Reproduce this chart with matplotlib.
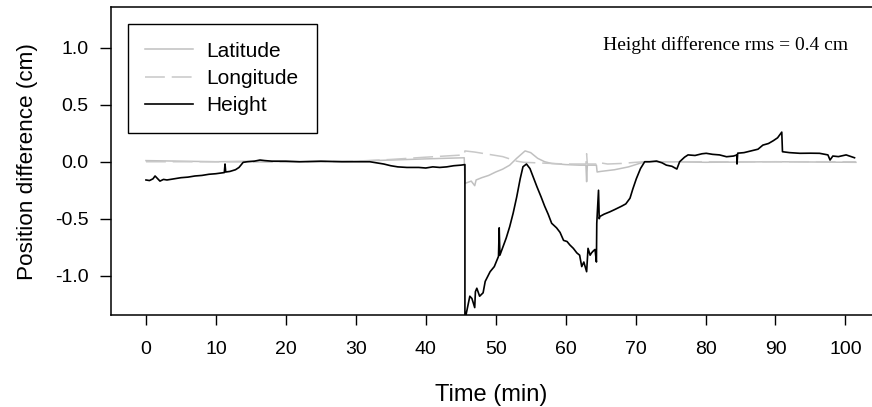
import numpy as np
import matplotlib
matplotlib.use("Agg")
import matplotlib.pyplot as plt

# values (time in min, difference in cm)
height_t = [0.0, 0.5, 1.0, 1.3, 1.7, 2.0, 2.5, 3.0, 4.0, 5.0, 6.0, 7.0, 8.0, 9.0,
            10.0, 11.2, 11.3, 11.4, 12.0, 12.8, 13.3, 13.9, 14.5, 15.5, 16.3, 17.0,
            18.0, 20.0, 22.0, 25.0, 28.0, 30.0, 32.0, 33.0, 34.0, 35.0, 36.0, 37.3,
            39.0, 40.0, 41.0, 42.0, 43.0, 44.0, 45.0, 45.6, 45.6, 45.8, 46.3, 46.6,
            47.0, 47.1, 47.3, 47.7, 48.2, 48.5, 49.2, 49.8, 50.4, 50.5, 50.6, 50.9,
            51.5, 52.0, 52.5, 53.0, 53.5, 53.9, 54.4, 54.9, 55.4, 55.9, 56.5, 57.0,
            57.5, 58.0, 58.7, 59.2, 59.7, 60.2, 60.6, 61.1, 61.6, 62.0, 62.3, 62.6,
            63.0, 63.2, 63.5, 63.7, 64.0, 64.2, 64.4, 64.45, 64.7, 64.8, 64.9, 65.5,
            66.3, 67.0, 68.0, 68.6, 69.2, 69.6, 70.1, 70.7, 71.3, 72.0, 73.0, 73.8,
            74.4, 75.2, 75.9, 76.3, 77.0, 77.5, 78.5, 79.5, 80.1, 81.0, 82.0, 83.0,
            84.0, 84.5, 84.5, 84.6, 85.5, 86.8, 87.5, 88.2, 89.0, 89.7, 90.3, 90.9,
            91.0, 92.0, 93.5, 95.0, 96.3, 97.5, 97.8, 98.2, 99.0, 100.1, 101.3]
height_v = [-0.16, -0.165, -0.15, -0.125, -0.15, -0.17, -0.155, -0.16, -0.15, -0.14,
            -0.135, -0.125, -0.12, -0.11, -0.105, -0.095, -0.02, -0.09, -0.085, -0.07,
            -0.05, -0.005, 0.0, 0.005, 0.015, 0.01, 0.005, 0.005, 0.0, 0.005, 0.0, 0.0,
            0.0, -0.01, -0.02, -0.035, -0.045, -0.05, -0.05, -0.055, -0.045, -0.05,
            -0.045, -0.035, -0.03, -0.025, -1.4, -1.33, -1.18, -1.2, -1.28, -1.14,
            -1.11, -1.18, -1.15, -1.05, -0.965, -0.92, -0.83, -0.58, -0.82, -0.77,
            -0.67, -0.57, -0.45, -0.31, -0.15, -0.044, -0.02, -0.06, -0.14, -0.22,
            -0.31, -0.39, -0.46, -0.54, -0.58, -0.62, -0.69, -0.70, -0.73, -0.76,
            -0.80, -0.82, -0.92, -0.88, -0.965, -0.76, -0.82, -0.80, -0.78, -0.77,
            -0.88, -0.54, -0.25, -0.50, -0.48, -0.46, -0.44, -0.42, -0.39, -0.37,
            -0.32, -0.24, -0.15, -0.06, 0.0, 0.0, 0.006, -0.01, -0.03, -0.04, -0.064,
            0.0, 0.04, 0.06, 0.055, 0.07, 0.074, 0.065, 0.06, 0.044, 0.05, 0.06,
            -0.02, 0.075, 0.08, 0.10, 0.11, 0.146, 0.16, 0.185, 0.21, 0.26, 0.088,
            0.08, 0.074, 0.075, 0.074, 0.06, 0.015, 0.05, 0.045, 0.06, 0.035]

lat_t = [0.0, 5.0, 10.0, 15.0, 20.0, 25.0, 30.0, 35.0, 40.0, 45.5, 45.6, 46.5, 47.0,
         47.2, 48.0, 49.0, 50.0, 51.0, 52.0, 53.0, 54.2, 55.0, 56.0, 57.0, 58.0,
         60.0, 62.0, 62.9, 63.0, 63.1, 64.4, 64.5, 65.0, 67.0, 69.0, 71.3, 75.0,
         80.0, 90.0, 101.5]
lat_v = [0.01, 0.005, 0.0, 0.005, 0.0, 0.0, 0.005, 0.015, 0.025, 0.035, -0.19, -0.17,
         -0.21, -0.16, -0.14, -0.12, -0.09, -0.065, -0.03, 0.03, 0.095, 0.08, 0.03,
         0.0, -0.015, -0.025, -0.03, -0.03, -0.175, -0.03, -0.03, -0.09, -0.085,
         -0.07, -0.045, 0.0, 0.0, -0.005, 0.0, -0.005]

lon_t = [0.0, 10.0, 20.0, 30.0, 35.0, 40.0, 45.5, 45.6, 47.0, 48.5, 50.0, 51.0, 52.0,
         53.0, 54.0, 56.0, 58.0, 60.0, 62.9, 63.0, 63.1, 64.4, 64.5, 66.0, 68.0,
         70.0, 71.3, 80.0, 90.0, 101.5]
lon_v = [0.0, 0.0, -0.005, 0.005, 0.02, 0.04, 0.06, 0.095, 0.085, 0.07, 0.055, 0.045,
         0.025, 0.005, -0.005, -0.01, -0.015, -0.02, -0.02, 0.07, -0.02, -0.02,
         -0.005, -0.02, -0.015, -0.005, 0.0, 0.0, 0.0, 0.0]

x_ticks = [0, 10, 20, 30, 40, 50, 60, 70, 80, 90, 100]
y_ticks = [-1.0, -0.5, 0.0, 0.5, 1.0]

plt.rcParams["font.family"] = ["Liberation Sans", "DejaVu Sans"]

fig = plt.figure(figsize=(8.72, 4.07), dpi=100)
ax = fig.add_axes([0.1273, 0.226, 0.8727, 0.756])

ax.plot(lat_t, lat_v, color="#c0c0c0", lw=1.1, label="Latitude")
ax.plot(lon_t, lon_v, color="#c8c8c8", lw=1.1, ls=(0, (13, 4.5)), label="Longitude")
ax.plot(height_t, height_v, color="black", lw=1.2, label="Height")

ax.set_xlim(-5, 103.8)
ax.set_ylim(-1.345, 1.355)
ax.set_xticks(x_ticks)
ax.set_yticks(y_ticks)
ax.set_yticklabels([f"{v:.1f}" for v in y_ticks], fontsize=14)
ax.set_xticklabels([str(v) for v in x_ticks], fontsize=14)
ax.tick_params(axis="x", direction="out", length=7.5, width=1, pad=11)
ax.tick_params(axis="y", direction="out", length=8, width=1, pad=8)
ax.spines["right"].set_visible(False)
for s in ["left", "top", "bottom"]:
    ax.spines[s].set_linewidth(1.1)

ax.set_xlabel("Time (min)", fontsize=17, labelpad=19)
ax.set_ylabel("Position difference (cm)", fontsize=16.2, labelpad=12)

ax.text(0.9685, 0.861, "Height difference rms = 0.4 cm", transform=ax.transAxes,
        ha="right", va="baseline", fontsize=14, family=["Liberation Serif", "DejaVu Serif"])

leg = ax.legend(loc="upper left", bbox_to_anchor=(0.022, 0.946), borderaxespad=0,
                fontsize=15, handlelength=2.3, handletextpad=0.64, labelspacing=0.4,
                borderpad=0.85, fancybox=False, framealpha=1, edgecolor="black")
leg.get_frame().set_linewidth(1.0)

fig.savefig("out.png", dpi=100)
